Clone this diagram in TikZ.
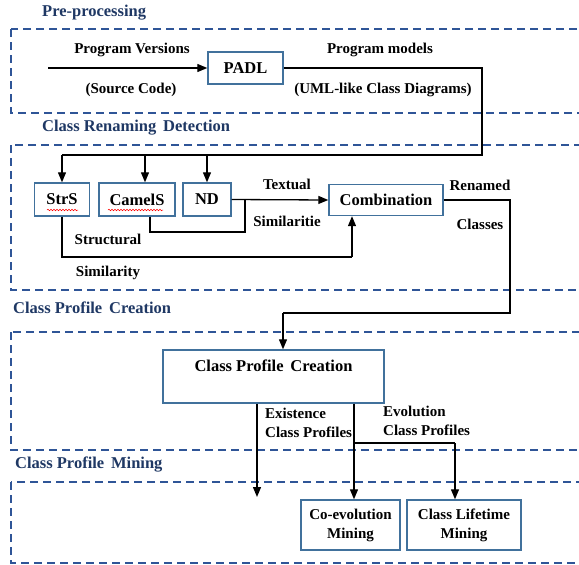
\documentclass[tikz,border=0pt]{standalone}
\usepackage{fontspec}
\setmainfont{Liberation Serif}
\usetikzlibrary{arrows.meta,decorations.pathmorphing}
\definecolor{titleblue}{RGB}{31,56,100}
\definecolor{dashblue}{RGB}{47,85,151}
\definecolor{boxblue}{RGB}{65,113,156}
\tikzset{
  stagebox/.style={draw=dashblue, line width=1.4pt, dash pattern=on 8pt off 5pt},
  stagetitle/.style={anchor=west, inner sep=0pt, text=titleblue, font=\bfseries\fontsize{16.5}{18}\selectfont},
  procbox/.style={draw=boxblue, line width=1.4pt, fill=white, inner sep=0pt, font=\bfseries\fontsize{16.5}{19}\selectfont},
  minebox/.style={procbox, align=center, font=\bfseries\fontsize{15}{19}\selectfont},
  lbl/.style={inner sep=0pt, font=\bfseries\fontsize{15}{17}\selectfont},
  flow/.style={line width=1.3pt, black},
  arr/.style={flow, -{Triangle[length=10pt,width=8pt]}},
  spell/.style={draw=red, line width=0.5pt, decorate, decoration={snake, amplitude=0.8pt, segment length=3pt}}
}
\begin{document}
\begin{tikzpicture}[x=1pt,y=-1pt]
\useasboundingbox (0,0) rectangle (579,565);
\clip (0,0) rectangle (579,565);

% stage frames (open to the right)
\draw[stagebox] (11,29) rectangle (600,113);
\draw[stagebox] (11,145) rectangle (600,290);
\draw[stagebox] (11,332) rectangle (600,450);
\draw[stagebox] (11,482) rectangle (600,563);

\node[stagetitle] (t1) at (42,13) {Pre-processing};
\node[stagetitle] (t2) at (42,128) {Class Renaming\, Detection};
\node[stagetitle] (t3) at (13,308) {Class Profile\, Creation};
\node[stagetitle] (t4) at (15,465) {Class Profile\, Mining};

% pre-processing
\node[procbox, minimum width=75pt, minimum height=32pt] (padl) at (245.5,68) {PADL};
\coordinate (src) at (48,68);
\draw[arr] (src) -- (padl.west);
\node[lbl] (pv) at (132,50) {Program Versions};
\node[lbl] (sc) at (131,90) {(Source Code)};
\node[lbl] (pm) at (380,50) {Program models};
\node[lbl] (uml) at (383,90) {(UML-like Class Diagrams)};

% class renaming detection
\node[procbox, minimum width=55pt, minimum height=33pt] (strs) at (62,199.5) {StrS};
\node[procbox, minimum width=76pt, minimum height=33pt] (camels) at (137,199.5) {CamelS};
\node[procbox, minimum width=48pt, minimum height=33pt] (nd) at (207,199.5) {ND};
\node[procbox, minimum width=114pt, minimum height=31pt] (comb) at (386,200) {Combination};
\draw[spell] (47,210) -- (78,210);
\draw[spell] (108,210) -- (163,210);

\coordinate (split) at (482,155);
\draw[flow] (padl.east) -| (split) -- (split -| strs.north);
\draw[arr] (strs.north |- split) -- (strs.north);
\coordinate (camin) at ([xshift=8pt]camels.north);
\draw[arr] (camin |- split) -- (camin);
\draw[arr] (nd.north |- split) -- (nd.north);

\draw[arr] (nd.east) -- (comb.west);
\coordinate (cj) at (245,232);
\coordinate (camout) at ([xshift=13pt]camels.south);
\draw[flow] (camout) |- (cj) -- (cj |- nd.east);
\coordinate (sj) at (352,257);
\draw[flow] (strs.south) |- (sj);
\draw[arr] (sj) -- (sj |- comb.south);

\node[lbl] (tx) at (287,184) {Textual};
\node[lbl] (sm1) at (287,221) {Similaritie};
\node[lbl] (st) at (108,239) {Structural};
\node[lbl] (sm2) at (108,273) {Similarity};
\node[lbl] (rn) at (480,185) {Renamed};
\node[lbl] (cl) at (480,224) {Classes};

% class profile creation
\node[procbox, minimum width=221pt, minimum height=53pt] (cpc) at (273.5,376.5) {};
\node[procbox, draw=none, fill=none] (cpct) at (273.5,366) {Class Profile\, Creation};
\coordinate (rj) at (510,313);
\coordinate (cpcin) at ([xshift=9.5pt]cpc.north);
\draw[flow] (comb.east) -| (rj) -- (rj -| cpcin);
\draw[arr] (cpcin |- rj) -- (cpcin);

\node[lbl, anchor=west] (ex1) at (265,413) {Existence};
\node[lbl, anchor=west] (ex2) at (265,432) {Class Profiles};
\node[lbl, anchor=west] (ev1) at (383,411) {Evolution};
\node[lbl, anchor=west] (ev2) at (383,430) {Class Profiles};

% class profile mining
\node[minebox, minimum width=99pt, minimum height=50pt] (coev) at (350.5,525) {Co-evolution\\Mining};
\node[minebox, minimum width=114pt, minimum height=50pt] (life) at (464,525) {Class Lifetime\\Mining};

\coordinate (exend) at (257,497);
\draw[arr] (cpc.south -| exend) -- (exend);
\coordinate (evout) at ([xshift=80.5pt]cpc.south);
\draw[arr] (evout) -- (evout |- coev.north);
\coordinate (ej) at (455,443);
\draw[flow] (evout |- ej) -- (ej);
\draw[arr] (ej) -- (ej |- life.north);
\end{tikzpicture}
\end{document}
